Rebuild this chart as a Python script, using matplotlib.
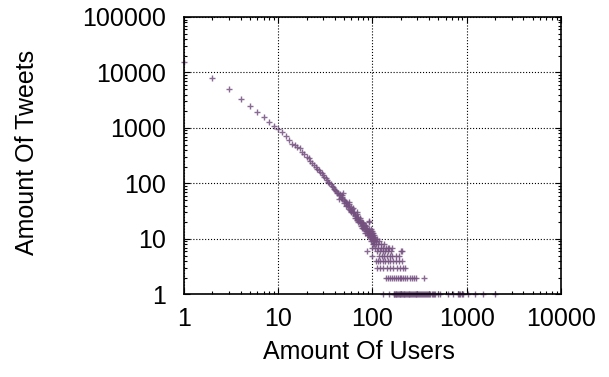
import matplotlib
matplotlib.use('Agg')
import matplotlib.pyplot as plt
from matplotlib.ticker import LogLocator, FixedLocator, NullFormatter

# head of the curve, one point per user count
users_head = [1, 2, 3, 4, 5, 6, 7, 8, 9, 10, 11, 12, 13, 14, 15, 16, 17,
              18, 19, 20, 21, 22, 23, 24, 25, 26, 27, 28, 29, 30, 31, 32, 33,
              34, 35, 36, 37, 38, 39, 40]
tweets_head = [15500, 8000, 5100, 3350, 2460, 1930, 1550, 1280, 1075, 944,
               845, 716, 600, 523, 488, 455, 431,
               375, 340, 305, 285, 250, 232, 215, 200, 185, 172, 160, 152,
               140, 133, 125, 116, 108, 102, 98, 90, 86, 80, 76]

# noisy middle section
users_mid = [41, 42, 43, 44, 45, 46, 47, 48, 49, 50, 51, 52, 53, 54, 55, 56,
             57, 58, 59, 60, 61, 62, 63, 64, 65, 66, 67, 68, 69, 70, 71, 72,
             73, 74, 75, 76, 77, 78, 79, 80, 81, 82, 83, 84, 85, 86, 87, 88,
             89, 90, 91, 92, 93, 94, 95, 96, 97, 98, 99, 100, 101, 102, 103,
             104, 105, 107, 110, 113]
tweets_mid = [74, 68, 66, 61, 64, 55, 58, 52, 66, 50, 48, 45, 47, 41, 39, 42,
              35, 33, 37, 32, 34, 30, 29, 31, 27, 26, 24, 28, 22, 25, 23, 21,
              20, 22, 19, 17, 20, 18, 19, 16, 17, 15, 18, 16, 14, 17, 13, 15,
              14, 12, 21, 13, 20, 11, 14, 12, 15, 10, 12, 13, 9, 11, 8, 10,
              9, 10, 9, 10]

# extra scattered points widening the middle band
users_spread = [44, 47, 50, 53, 56, 59, 62, 65, 68, 71, 74, 77, 80, 83, 86,
                89, 92, 95, 98]
tweets_spread = [52, 62, 44, 40, 46, 31, 36, 24, 30, 20, 24, 16, 19, 13, 16,
                 12, 15, 11, 14]

# tail: small tweet counts
users_tail = [90, 99, 103, 92, 101, 94, 100, 105, 96, 102, 107, 97, 104, 118,
              101, 108, 115, 124, 133,
              99, 106, 114, 122, 129, 140, 146, 150, 161,
              88, 112, 120, 128, 137, 147, 156, 202, 207,
              98, 118, 125, 133, 142, 152, 163, 176, 190,
              108, 114, 120, 128, 136, 145, 155, 166, 178, 192, 206,
              112, 121, 131, 142, 154, 167, 181, 196, 212, 223,
              141, 148, 155, 163, 170, 178, 186, 195, 203, 212, 222, 235, 248,
              262, 275, 290, 355]
tweets_tail = [12, 12, 12, 13, 13, 11, 11, 11, 10, 10, 10, 9, 9, 9,
               8, 8, 8, 8, 8,
               7, 7, 7, 7, 7, 7, 7, 7, 7,
               6, 6, 6, 6, 6, 6, 6, 6, 6,
               5, 5, 5, 5, 5, 5, 5, 5, 5,
               4, 4, 4, 4, 4, 4, 4, 4, 4, 4, 4,
               3, 3, 3, 3, 3, 3, 3, 3, 3, 3,
               2, 2, 2, 2, 2, 2, 2, 2, 2, 2, 2, 2, 2,
               2, 2, 2, 2]

# users with a single tweet
users_one = [130, 149, 168, 171, 174, 177, 180, 184, 187, 190, 194, 198, 202,
             206, 210, 214, 218, 223, 228, 232, 237, 242, 247, 252, 258, 263,
             269, 275, 281, 287, 293, 300, 307, 314, 321, 329, 337, 345, 353,
             362, 371, 381, 391, 402, 413, 425, 437, 449, 464, 491, 525, 627,
             714, 800, 830, 860, 889, 925, 1045, 1230, 1483, 2000]
tweets_one = [1] * len(users_one)

users = users_head + users_mid + users_spread + users_tail + users_one
tweets = tweets_head + tweets_mid + tweets_spread + tweets_tail + tweets_one

plt.rcParams['font.family'] = ['Liberation Sans', 'DejaVu Sans']
plt.rcParams['font.size'] = 18

fig = plt.figure(figsize=(6.09, 3.77), dpi=100)
ax = fig.add_axes([0.302, 0.219, 0.619, 0.736])

ax.plot(users, tweets, linestyle='none', marker='+', markersize=4.2,
        markeredgewidth=1.0, color='#74507f', alpha=0.85, clip_on=False)

ax.set_xscale('log')
ax.set_yscale('log')
ax.set_xlim(1, 10000)
ax.set_ylim(1, 100000)

ax.xaxis.set_major_locator(FixedLocator([1, 10, 100, 1000, 10000]))
ax.yaxis.set_major_locator(FixedLocator([1, 10, 100, 1000, 10000, 100000]))
ax.set_xticklabels(['1', '10', '100', '1000', '10000'])
ax.set_yticklabels(['1', '10', '100', '1000', '10000', '100000'])
ax.xaxis.set_minor_locator(LogLocator(base=10, subs=range(2, 10), numticks=20))
ax.yaxis.set_minor_locator(LogLocator(base=10, subs=range(2, 10), numticks=20))
ax.xaxis.set_minor_formatter(NullFormatter())
ax.yaxis.set_minor_formatter(NullFormatter())

ax.tick_params(which='both', direction='in', top=True, right=True, width=0.8)
ax.tick_params(which='major', length=4.5)
ax.tick_params(which='minor', length=2.5)
ax.tick_params(axis='y', which='major', pad=13)
ax.tick_params(axis='x', which='major', pad=9)

ax.grid(True, which='major', linestyle=':', color='black', linewidth=0.8)
for s in ax.spines.values():
    s.set_linewidth(1.2)

ax.set_xlabel('Amount Of Users')
ax.set_ylabel('Amount Of Tweets')
ax.xaxis.set_label_coords(0.464, -0.165)
ax.yaxis.set_label_coords(-0.385, 0.51)

fig.savefig('out.png', dpi=100)
